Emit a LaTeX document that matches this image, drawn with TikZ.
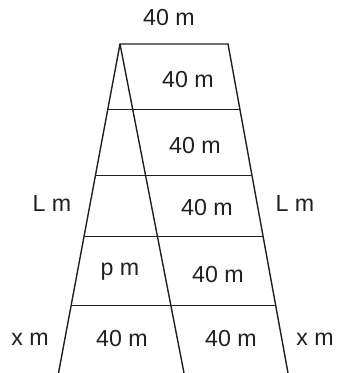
\documentclass[tikz,border=0pt]{standalone}
\usepackage{fontspec}
\setmainfont{Liberation Sans}
\usepackage{xcolor}
\usepackage{tikz}
\usetikzlibrary{calc}
\definecolor{InkGrey}{RGB}{35,31,32}

\begin{document}
\begin{tikzpicture}[x=0.5pt,y=-0.5pt,
    edge/.style={InkGrey,line width=0.7pt},
    lbl/.style={InkGrey,font=\fontsize{11.6}{13}\selectfont,inner sep=0pt}]
        \useasboundingbox (0,0) rectangle (337,373);
        \coordinate (topL) at (120,44);
        \coordinate (topR) at (228,44);
        \coordinate (botL) at (58.5,373);
        \coordinate (botM) at (184,373);
        \coordinate (botR) at (288,373);
        \draw[edge] (botL) -- (topL) -- (topR) -- (botR);
        \draw[edge] (topL) -- (botM);
        \foreach \t in {0.2,0.4,0.585,0.795}
          \draw[edge] ($(topL)!\t!(botL)$) -- ($(topR)!\t!(botR)$);
        \node[lbl] (top) at (169,18) {40 m};
        \node[lbl] (r1) at (188,80) {40 m};
        \node[lbl] (r2) at (195,146) {40 m};
        \node[lbl] (r3) at (207,208) {40 m};
        \node[lbl] (r4) at (218,275) {40 m};
        \node[lbl] (r5) at (231,339) {40 m};
        \node[lbl] (l5) at (122,339) {40 m};
        \node[lbl] (pm) at (120,272) {p m};
        \node[lbl] (lmL) at (52,204) {L m};
        \node[lbl] (lmR) at (295,204) {L m};
        \node[lbl] (xmL) at (30,339) {x m};
        \node[lbl] (xmR) at (315,339) {x m};
      \end{tikzpicture}
\end{document}
